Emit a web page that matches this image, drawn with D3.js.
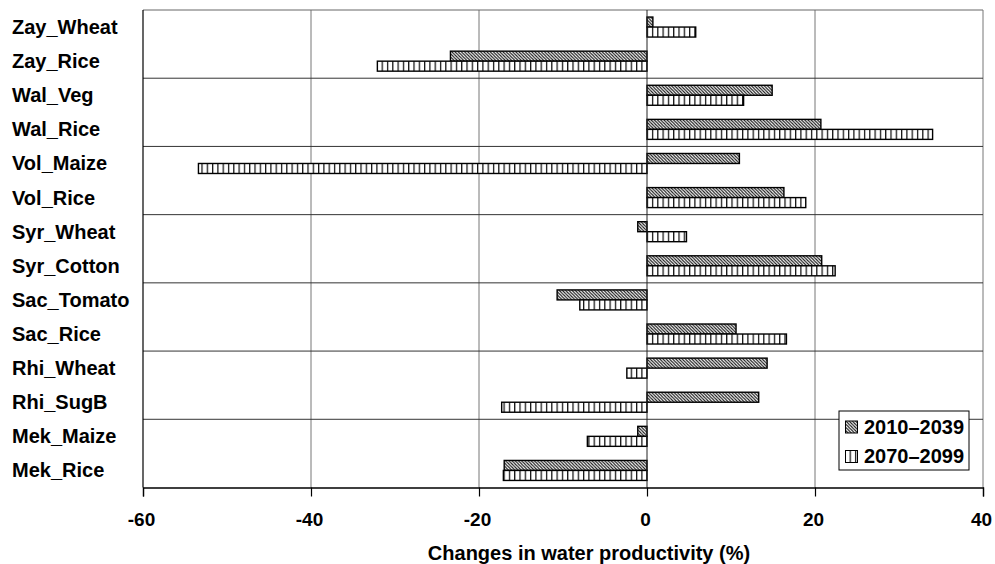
<!DOCTYPE html>
<html>
<head>
<meta charset="utf-8">
<script src="https://cdn.jsdelivr.net/npm/d3@7"></script>
<style>
  html, body { margin: 0; padding: 0; background: #fff; }
  svg { display: block; }
  text { font-family: Arial, "Liberation Sans", Helvetica, sans-serif; font-weight: bold; fill: #000; }
</style>
</head>
<body>
<svg id="chart" width="995" height="564"></svg>
<script>
// Crop/site combinations, top to bottom
const categories = ["Zay_Wheat", "Zay_Rice", "Wal_Veg", "Wal_Rice", "Vol_Maize", "Vol_Rice",
  "Syr_Wheat", "Syr_Cotton", "Sac_Tomato", "Sac_Rice", "Rhi_Wheat", "Rhi_SugB", "Mek_Maize", "Mek_Rice"];

// Change in water productivity (%) per period
const series = ["2010-2039", "2070-2099"];
const values2010 = [0.7, -23.4, 14.9, 20.7, 11.0, 16.3, -1.1, 20.8, -10.7, 10.6, 14.3, 13.3, -1.1, -17.0];
const values2070 = [5.8, -32.1, 11.5, 34.0, -53.4, 18.9, 4.7, 22.4, -8.0, 16.6, -2.4, -17.3, -7.1, -17.1];

const xTicks = [-60, -40, -20, 0, 20, 40];
const legendLabels = ["2010\u20132039", "2070\u20132099"];
const axisTitle = "Changes in water productivity (%)";

const svg = d3.select("#chart");
const plotLeft = 143, plotRight = 983, plotTop = 10, plotBottom = 487.5;

const x = d3.scaleLinear().domain([-60, 40]).range([plotLeft, plotRight]);
const y = d3.scaleBand().domain(categories).range([plotTop, plotBottom]).padding(0);
const ySub = d3.scaleBand().domain(series).range([0, y.bandwidth()])
  .paddingInner(0).paddingOuter(0.705);

// Fill patterns: diagonal hatch and vertical stripes
const defs = svg.append("defs");
const hatch = defs.append("pattern").attr("id", "hatch")
  .attr("patternUnits", "userSpaceOnUse").attr("width", 3.2).attr("height", 3.2);
hatch.append("rect").attr("width", 3.2).attr("height", 3.2).attr("fill", "#fff");
hatch.append("path").attr("d", "M-1,-1 L4.2,4.2 M-1,2.2 L1,4.2 M2.2,-1 L4.2,1")
  .attr("stroke", "#111").attr("stroke-width", 1.1);
const stripe = defs.append("pattern").attr("id", "stripe")
  .attr("patternUnits", "userSpaceOnUse").attr("width", 5.3).attr("height", 10);
stripe.append("rect").attr("width", 5.3).attr("height", 10).attr("fill", "#fff");
stripe.append("line").attr("x1", 0.6).attr("x2", 0.6).attr("y1", 0).attr("y2", 10)
  .attr("stroke", "#111").attr("stroke-width", 1.3);

const fills = { "2010-2039": "url(#hatch)", "2070-2099": "url(#stripe)" };

// Vertical gridlines
svg.append("g").selectAll("line")
  .data(xTicks.filter(t => t !== 0 && t !== -60 && t !== 40))
  .join("line")
  .attr("x1", d => x(d)).attr("x2", d => x(d))
  .attr("y1", plotTop).attr("y2", plotBottom)
  .attr("stroke", "#777").attr("stroke-width", 1);

// Plot frame (top and right)
svg.append("line").attr("x1", plotLeft).attr("x2", plotRight).attr("y1", plotTop).attr("y2", plotTop)
  .attr("stroke", "#666").attr("stroke-width", 1);
svg.append("line").attr("x1", plotRight).attr("x2", plotRight).attr("y1", plotTop).attr("y2", plotBottom)
  .attr("stroke", "#777").attr("stroke-width", 1);

// Horizontal separators between site pairs
const separators = categories.filter((c, i) => i % 2 === 0 && i > 0);
svg.append("g").selectAll("line").data(separators).join("line")
  .attr("x1", plotLeft).attr("x2", plotRight)
  .attr("y1", d => y(d)).attr("y2", d => y(d))
  .attr("stroke", "#333").attr("stroke-width", 1);

// Bars
const rows = categories.map((c, i) => ({ cat: c, vals: [values2010[i], values2070[i]] }));
const barGroup = svg.append("g");
rows.forEach(r => {
  series.forEach((s, j) => {
    const v = r.vals[j];
    barGroup.append("rect")
      .attr("x", x(Math.min(0, v)))
      .attr("y", y(r.cat) + ySub(s))
      .attr("width", Math.abs(x(v) - x(0)))
      .attr("height", ySub.bandwidth())
      .attr("fill", fills[s])
      .attr("stroke", "#000").attr("stroke-width", 1.4);
  });
});

// Zero line and left axis line
svg.append("line").attr("x1", x(0)).attr("x2", x(0)).attr("y1", plotTop).attr("y2", plotBottom)
  .attr("stroke", "#222").attr("stroke-width", 1);
svg.append("line").attr("x1", plotLeft).attr("x2", plotLeft).attr("y1", plotTop).attr("y2", plotBottom)
  .attr("stroke", "#000").attr("stroke-width", 1.2);

// Bottom axis
const xAxis = svg.append("g").attr("transform", `translate(0,${plotBottom})`)
  .call(d3.axisBottom(x).tickValues(xTicks).tickFormat(d => String(d)).tickSize(9).tickPadding(16));
xAxis.select(".domain").attr("stroke", "#000").attr("stroke-width", 1.3);
xAxis.selectAll(".tick line").attr("stroke", "#000").attr("stroke-width", 1.2);
xAxis.selectAll(".tick text")
  .attr("font-size", 19).attr("font-weight", "bold").attr("fill", "#000")
  .attr("font-family", "Arial, 'Liberation Sans', sans-serif").attr("dx", -2);

// Axis title
svg.append("text").attr("x", 589).attr("y", 560).attr("text-anchor", "middle")
  .attr("font-size", 20).text(axisTitle);

// Category labels
svg.append("g").selectAll("text").data(categories).join("text")
  .attr("x", 12).attr("y", d => y(d) + y.bandwidth() / 2 + 7)
  .attr("font-size", 20).text(d => d);

// Legend
const lg = svg.append("g").attr("transform", "translate(839,411)");
lg.append("rect").attr("width", 130).attr("height", 59)
  .attr("fill", "#fff").attr("stroke", "#000").attr("stroke-width", 1);
series.forEach((s, i) => {
  const yy = 10 + i * 29.5;
  lg.append("rect").attr("x", 6.5).attr("y", yy).attr("width", 12).attr("height", 12)
    .attr("fill", fills[s]).attr("stroke", "#000").attr("stroke-width", 1);
  lg.append("text").attr("x", 25).attr("y", yy + 12.5).attr("font-size", 20)
    .text(legendLabels[i]);
});
</script>
</body>
</html>
